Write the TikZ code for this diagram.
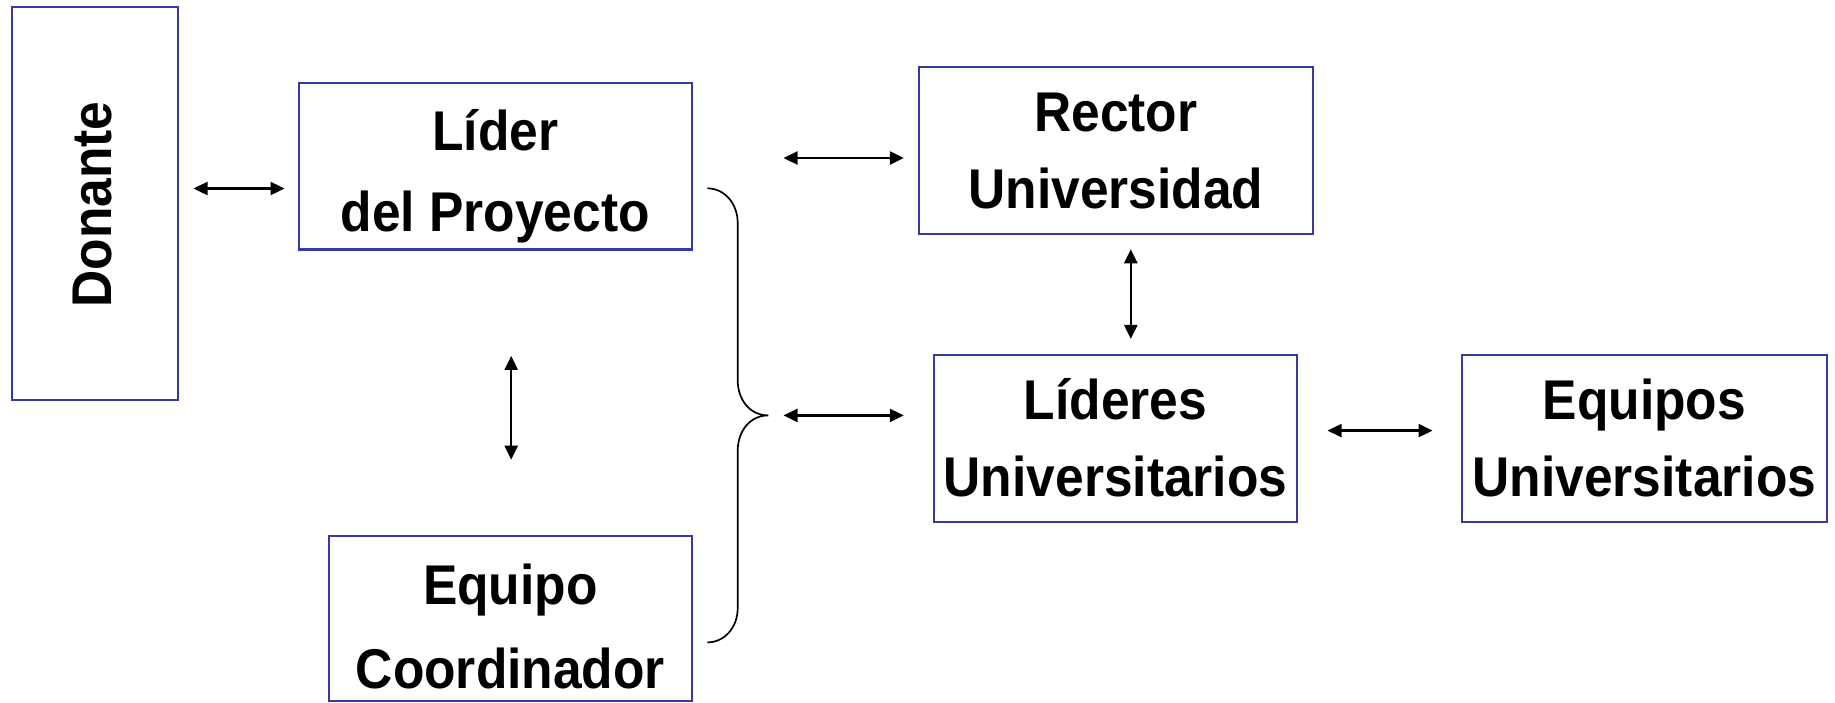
\documentclass[tikz,border=0pt]{standalone}
\usepackage{fontspec}
\setmainfont{Liberation Sans}[FakeStretch=0.92]
\usetikzlibrary{arrows.meta}
\definecolor{boxblue}{RGB}{55,55,165}
\newcommand{\twol}[3]{\rule{0pt}{50pt}#2\\[#1]#3\rule[-15pt]{0pt}{15pt}}
\begin{document}
\begin{tikzpicture}[x=1pt,y=-1pt,
  box/.style={draw=boxblue,line width=2.2pt,inner sep=0pt,minimum height=166.7pt},
  lbl/.style={inner sep=0pt,align=center,font=\fontsize{56pt}{77pt}\selectfont\bfseries},
  arr/.style={line width=2.4pt,{Triangle[length=14pt,width=13pt]}-{Triangle[length=14pt,width=13pt]}},
  bracestyle/.style={line width=1.7pt}]
\useasboundingbox[fill=white] (0,0) rectangle (1835,702);
% boxes
\node[box,minimum width=166pt,minimum height=393pt] (don) at (94.75,203.2) {};
\node[box,minimum width=392.7pt] (lider) at (495.35,166.1) {};
\node[box,minimum width=362.7pt,minimum height=165.3pt] (coord) at (510.35,618.35) {};
\node[box,minimum width=393.5pt] (rector) at (1115.85,150.4) {};
\node[box,minimum width=363pt] (lideres) at (1115.55,438.25) {};
\node[box,minimum width=364.3pt] (equipos) at (1644.45,438.25) {};
% labels
\node[lbl,rotate=90,anchor=base] (donT) at (111,204.5) {Donante};
\node[lbl] (liderT) at (495.35,173.35) {\twol{4.7pt}{Líder}{del Proyecto}};
\node[lbl] (coordT) at (510.35,628.8) {\twol{7pt}{Equipo}{Coordinador}};
\node[lbl] (rectorT) at (1115.85,152.6) {\twol{0pt}{Rector}{Universidad}};
\node[lbl] (lideresT) at (1115.55,440.6) {\twol{0pt}{Líderes}{Universitarios}};
\node[lbl] (equiposT) at (1644.45,440.6) {\twol{0pt}{Equipos}{Universitarios}};
% arrow end points
\coordinate (a1s) at (193.5,188.5);  \coordinate (a1e) at (284.5,188.5);
\coordinate (a2s) at (783.5,158);    \coordinate (a2e) at (903.8,158);
\coordinate (a3s) at (511.2,355.9);  \coordinate (a3e) at (511.2,459.7);
\coordinate (a4s) at (1130.8,249.3); \coordinate (a4e) at (1130.8,338.9);
\coordinate (a5s) at (783.5,415.4);  \coordinate (a5e) at (903.8,415.4);
\coordinate (a6s) at (1327.5,430.6); \coordinate (a6e) at (1432.5,430.6);
\draw[arr] (a1s) -- (a1e);
\draw[arr] (a2s) -- (a2e);
\draw[arr] (a3s) -- (a3e);
\draw[arr] (a4s) -- (a4e);
\draw[arr] (a5s) -- (a5e);
\draw[arr] (a6s) -- (a6e);
% brace
\coordinate (bt) at (707.3,188.3);
\coordinate (bm) at (768.3,415.4);
\coordinate (bb) at (707.3,642.4);
\draw[bracestyle] (bt) .. controls (724,188.3) and (737.7,203) .. (737.7,223)
  -- (737.7,380) .. controls (737.7,400) and (750,415.4) .. (bm)
  .. controls (750,415.4) and (737.7,431) .. (737.7,451)
  -- (737.7,608) .. controls (737.7,628) and (724,642.4) .. (bb);
\end{tikzpicture}
\end{document}
